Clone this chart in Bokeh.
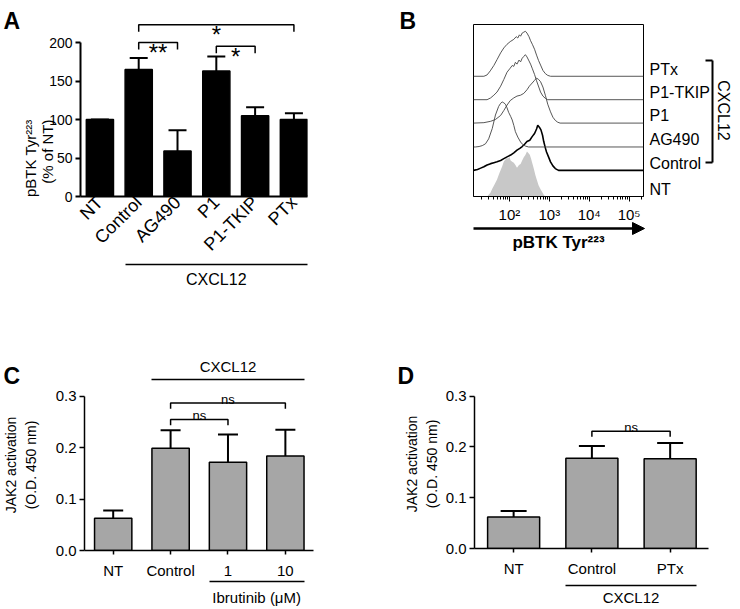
import math
from bokeh.plotting import figure
from bokeh.models import (Range1d, FixedTicker, LinearAxis, Whisker, TeeHead, GridBox,
                          ColumnDataSource, Arrow, NormalHead, NumeralTickFormatter)
from bokeh.core.properties import value
from bokeh.embed import file_html
from bokeh.resources import INLINE

FONT = "Liberation Sans"

# ---------------- Panel A data ----------------
a_groups = ["NT", "Control", "AG490", "P1", "P1-TKIP", "PTx"]
a_mean = [100, 165, 59, 163, 105, 100]
a_sem = [0, 15, 27, 19, 11, 8]
a_yticks = [0, 50, 100, 150, 200]
a_sig_from = ["Control", "P1", "Control"]
a_sig_to = ["AG490", "P1-TKIP", "PTx"]
a_sig_y = [200, 195, 223]
a_sig_text = ["**", "*", "*"]
a_treated = ["Control", "PTx"]

# ---------------- Panel B data (log10 fluorescence, % of mode) ----------------
b_names = ["NT", "Control", "AG490", "P1", "P1-TKIP", "PTx"]
b_offset = [0, 58, 110, 163, 215, 267]
b_nt_x = [1.44, 1.52, 1.57, 1.63, 1.69, 1.75, 1.82, 1.86, 1.90, 1.94, 1.96, 2.00, 2.03, 2.07, 2.11,
          2.15, 2.19, 2.24, 2.28, 2.32, 2.36, 2.40, 2.44, 2.48, 2.51, 2.54, 2.57, 2.61, 2.65, 2.69,
          2.73, 2.78, 2.82, 2.86, 2.90]
b_nt_y = [0, 8, 17, 27, 38, 52, 67, 78, 82, 86, 84, 88, 80, 77, 75,
          70, 64, 70, 72, 80, 87, 92, 100, 96, 93, 85, 75, 62, 48, 36,
          25, 16, 10, 4, 0]
b_control_x = [1.10, 1.20, 1.28, 1.36, 1.44, 1.53, 1.61, 1.69, 1.78, 1.86, 1.94, 2.03, 2.11, 2.19,
               2.26, 2.32, 2.38, 2.44, 2.51, 2.57, 2.63, 2.68, 2.71, 2.75, 2.79, 2.83, 2.86, 2.90,
               2.93, 2.98, 3.03, 3.09, 3.15, 3.23, 5.36]
b_control_y = [0, 2, 5, 8, 12, 15, 17, 19, 22, 26, 30, 34, 39, 45,
               49, 53, 58, 64, 67, 75, 82, 92, 100, 96, 90, 78, 64, 50,
               41, 30, 19, 10, 4, 0, 0]
b_ag490_x = [1.10, 1.15, 1.24, 1.32, 1.40, 1.48, 1.57, 1.65, 1.73, 1.78, 1.82, 1.86, 1.90, 1.94,
             1.98, 2.03, 2.07, 2.11, 2.15, 2.21, 2.28, 2.34, 2.40, 2.48, 5.36]
b_ag490_y = [0, 0, 1, 3, 7, 18, 41, 71, 90, 97, 100, 98, 95, 87,
             77, 68, 60, 48, 34, 22, 11, 5, 2, 0, 0]
b_p1_x = [1.10, 1.36, 1.53, 1.65, 1.78, 1.86, 1.94, 2.02, 2.11, 2.19, 2.28, 2.36, 2.44, 2.50,
          2.57, 2.63, 2.68, 2.73, 2.78, 2.84, 2.90, 2.96, 3.03, 3.09, 3.15, 3.21, 3.27, 5.36]
b_p1_y = [0, 1, 4, 8, 17, 28, 40, 50, 56, 60, 62, 66, 74, 82,
          89, 95, 100, 97, 92, 80, 62, 42, 25, 13, 6, 2, 0, 0]
b_tkip_x = [1.10, 1.44, 1.53, 1.61, 1.69, 1.78, 1.86, 1.94, 2.02, 2.07, 2.11, 2.15, 2.19, 2.24,
            2.28, 2.32, 2.36, 2.40, 2.44, 2.48, 2.53, 2.57, 2.63, 2.68, 2.78, 2.84, 2.90, 2.96, 5.36]
b_tkip_y = [0, 0, 4, 10, 17, 30, 45, 61, 70, 76, 74, 83, 79, 88,
            84, 92, 96, 100, 95, 88, 79, 70, 56, 42, 17, 8, 3, 0, 0]
b_ptx_x = [1.10, 1.36, 1.44, 1.52, 1.61, 1.69, 1.78, 1.86, 1.94, 2.02, 2.11, 2.17, 2.21, 2.25,
           2.28, 2.32, 2.36, 2.40, 2.44, 2.49, 2.53, 2.58, 2.63, 2.68, 2.73, 2.79, 2.84, 2.90,
           2.96, 3.03, 5.36]
b_ptx_y = [0, 0, 3, 12, 24, 37, 52, 63, 71, 77, 82, 88, 85, 92,
           89, 96, 98, 100, 96, 88, 79, 70, 60, 47, 35, 23, 13, 6,
           2, 0, 0]
b_decades = [2, 3, 4, 5]
b_decade_labels = ["10\u00b2", "10\u00b3", "10\u2074", "10\u2075"]
b_bracket = [75, 302]

# ---------------- Panel C data ----------------
c_groups = ["NT", "Control", "1", "10"]
c_mean = [0.063, 0.199, 0.172, 0.184]
c_sem = [0.015, 0.035, 0.054, 0.051]
c_yticks = [0.0, 0.1, 0.2, 0.3]
c_sig_from = ["Control", "Control"]
c_sig_to = ["1", "10"]
c_sig_y = [0.255, 0.287]
c_sig_text = ["ns", "ns"]
c_treated = ["Control", "10"]
c_ibrutinib = ["1", "10"]

# ---------------- Panel D data ----------------
d_groups = ["NT", "Control", "PTx"]
d_mean = [0.062, 0.178, 0.177]
d_sem = [0.012, 0.024, 0.031]
d_sig_from = ["Control"]
d_sig_to = ["PTx"]
d_sig_y = [0.231]
d_sig_text = ["ns"]
d_treated = ["Control", "PTx"]

panel_letters = ["A", "B", "C", "D"]


def base_fig(width, height, left, right, top, bottom, xr, yr):
    p = figure(width=width, height=height, x_range=Range1d(*xr), y_range=Range1d(*yr),
               output_backend="svg", toolbar_location=None, title=None,
               x_axis_location=None, y_axis_location=None,
               min_border_left=left, min_border_right=right,
               min_border_top=top, min_border_bottom=bottom)
    p.frame_align = False
    p.xgrid.visible = False
    p.ygrid.visible = False
    p.outline_line_color = None
    p.background_fill_color = "white"
    p.border_fill_color = "white"
    return p


def make_axis(ticks=None, labels=None, size="14px", line_width=1.5, **kw):
    ax = LinearAxis(ticker=FixedTicker(ticks=ticks or [], minor_ticks=[]), **kw)
    ax.major_label_text_font = FONT
    ax.major_label_text_font_size = size
    ax.major_label_text_color = "black"
    ax.axis_label_text_font = FONT
    ax.axis_label_text_font_style = "normal"
    ax.axis_label_text_color = "black"
    ax.axis_line_color = "black"
    ax.axis_line_width = line_width
    ax.major_tick_line_color = "black"
    ax.major_tick_line_width = line_width
    ax.minor_tick_line_color = None
    ax.major_tick_in = 0
    if labels is not None:
        ax.major_label_overrides = {t: l for t, l in zip(ticks, labels)}
    return ax


def label_axis(pos, txt, size, standoff, line=True, bounds=None, orientation="horizontal"):
    """An axis used only to carry a single text (and optionally a line)."""
    kw = {} if bounds is None else {"bounds": bounds}
    ax = make_axis([pos], [txt], size, 1.5, **kw)
    if not line:
        ax.axis_line_color = None
    ax.major_tick_line_color = None
    ax.major_tick_out = 0
    ax.major_label_standoff = standoff
    ax.major_label_orientation = orientation
    return ax


def pad(ax, px):
    """Extra empty space after an axis' tick labels."""
    ax.axis_label = " "
    ax.axis_label_text_font_size = f"{px}px"
    ax.axis_label_standoff = 0


def brackets(p, groups, s_from, s_to, s_y, s_text, leg, size, yoff):
    x0 = [groups.index(g) for g in s_from]
    x1 = [groups.index(g) for g in s_to]
    xs = [[a, a, b, b] for a, b in zip(x0, x1)]
    ys = [[y - leg, y, y, y - leg] for y in s_y]
    p.multi_line(xs=xs, ys=ys, line_color="black", line_width=1.5)
    p.text(x=[(a + b) / 2 for a, b in zip(x0, x1)], y=s_y, text=s_text,
           text_align="center", text_baseline="alphabetic", y_offset=yoff,
           text_font=value(FONT), text_font_size=size, text_color="black")


def bars(p, groups, mean, sem, width, fill, line, cap):
    src = ColumnDataSource(dict(x=list(range(len(groups))), top=mean,
                                up=[m + s for m, s in zip(mean, sem)]))
    p.vbar(x="x", top="top", width=width, source=src, fill_color=fill,
           line_color=line, line_width=1.5)
    p.add_layout(Whisker(source=src, base="x", lower="top", upper="up",
                         line_color="black", line_width=2, lower_head=None,
                         upper_head=TeeHead(size=cap, line_color="black", line_width=2)))


ROW1, ROW2 = 322, 286
COLA, COLB = 368, 372

# ================= Panel A =================
a_w = 0.7
pA = base_fig(COLA, ROW1, 80, 61, 12, ROW1 - 196, (-0.5, len(a_groups) - 1 + a_w / 2), (0, 239))
bars(pA, a_groups, a_mean, a_sem, a_w, "black", "black", 18)
brackets(pA, a_groups, a_sig_from, a_sig_to, a_sig_y, a_sig_text, 9, "24px", 10)

ay = make_axis(a_yticks, None, "14px", 2, bounds=(0, 200))
ay.major_tick_out = 5
ay.major_label_standoff = 3
pA.add_layout(ay, "left")
a_mid = sum(ay.bounds) / 2
pA.add_layout(label_axis(a_mid, "(% of NT)", "15px", -1, line=False, orientation=math.pi / 2), "left")
pA.add_layout(label_axis(a_mid, "pBTK Tyr\u00b2\u00b2\u00b3", "15px", -3, line=False,
                         orientation=math.pi / 2), "left")

ax = make_axis(list(range(len(a_groups))), a_groups, "18px", 2)
ax.major_tick_out = 0
ax.major_label_orientation = math.pi / 4
ax.major_label_standoff = 3
pA.add_layout(ax, "below")

a_tb = (a_groups.index(a_treated[0]) - a_w / 2, a_groups.index(a_treated[1]) + a_w / 2)
pA.add_layout(label_axis(sum(a_tb) / 2, "CXCL12", "16px", 6, bounds=a_tb), "below")

# ================= Panel B =================
pB = base_fig(COLB, ROW1, 105, 97, 24, ROW1 - 196, (1.1, 5.36), (0, 382))
pB.outline_line_color = "black"
pB.outline_line_width = 1
b_traces = [(b_control_x, b_control_y), (b_ag490_x, b_ag490_y), (b_p1_x, b_p1_y),
            (b_tkip_x, b_tkip_y), (b_ptx_x, b_ptx_y)]
pB.varea(x=b_nt_x, y1=[b_offset[0]] * len(b_nt_x), y2=[b_offset[0] + h for h in b_nt_y],
         fill_color="#c8c8c8")
for i, (xs, hs) in enumerate(b_traces, start=1):
    pB.line(x=xs, y=[b_offset[i] + h for h in hs], line_color="black" if i == 1 else "#444444",
            line_width=1.6 if i == 1 else 0.9)

b_minor = [math.log10(k * 10 ** n) for n in range(1, 6) for k in range(2, 10)
           if 1.1 < math.log10(k * 10 ** n) < 5.36]
bx = make_axis(b_decades, b_decade_labels, "15px", 1)
bx.ticker = FixedTicker(ticks=b_decades, minor_ticks=b_minor)
bx.major_tick_out = 5
bx.minor_tick_out = 3
bx.minor_tick_in = 0
bx.minor_tick_line_color = "black"
bx.major_label_standoff = 4
pB.add_layout(bx, "below")

bx2 = make_axis([], None, "14px", 2.5)
bx2.axis_line_color = None
bx2.axis_label = "pBTK Tyr\u00b2\u00b2\u00b3"
bx2.axis_label_text_font_size = "17px"
bx2.axis_label_text_font_style = "bold"
bx2.axis_label_standoff = 7
pB.add_layout(bx2, "below")

b_label_pos = [o + 16 for o in b_offset]
by = make_axis(b_label_pos, b_names, "16px", 1)
by.axis_line_color = None
by.major_tick_out = 0
by.major_tick_line_color = None
by.major_label_standoff = 6
pB.add_layout(by, "right")

by2 = make_axis(b_bracket, ["", ""], "1px", 2, bounds=tuple(b_bracket))
by2.major_tick_in = 7
by2.major_tick_out = 0
by2.major_label_standoff = 0
by2.axis_label = "CXCL12"
by2.axis_label_text_font_size = "16px"
by2.axis_label_standoff = 2
pB.add_layout(by2, "right")

# ================= Panel C =================
c_w = 0.65
C_TOP = 379 - ROW1
C_BOT = ROW2 - C_TOP - 172
pC = base_fig(COLA, ROW2, 80, 55, C_TOP, C_BOT, (-0.5, 3.49), (0, 0.333))
bars(pC, c_groups, c_mean, c_sem, c_w, "#a6a6a6", "black", 20)
brackets(pC, c_groups, c_sig_from, c_sig_to, c_sig_y, c_sig_text, 0.011, "13px", -4)

cy = make_axis(c_yticks, None, "15px", 1.5, bounds=(0, 0.3))
cy.formatter = NumeralTickFormatter(format="0.0")
cy.major_tick_out = 5
cy.major_label_standoff = 3
cy.axis_label = "JAK2 activation\n(O.D. 450 nm)"
cy.axis_label_text_font_size = "14px"
cy.axis_label_standoff = 14
pC.add_layout(cy, "left")

c_tb = (c_groups.index(c_treated[0]) - c_w / 2, c_groups.index(c_treated[1]) + c_w / 2)
pC.add_layout(label_axis(sum(c_tb) / 2, "CXCL12", "15px", 5, bounds=c_tb), "above")

cx = make_axis(list(range(len(c_groups))), c_groups, "15px", 1.5)
cx.major_tick_out = 4
cx.major_label_standoff = 7
pC.add_layout(cx, "below")

c_ib = (c_groups.index(c_ibrutinib[0]) - c_w / 2, c_groups.index(c_ibrutinib[1]) + c_w / 2)
pC.add_layout(label_axis(sum(c_ib) / 2, "Ibrutinib (\u03bcM)", "15px", 7, bounds=c_ib), "below")

# ================= Panel D =================
d_w = 0.665
pD = base_fig(COLB, ROW2, 106, 32, C_TOP, C_BOT, (-0.5, 2.49), (0, 0.333))
bars(pD, d_groups, d_mean, d_sem, d_w, "#a6a6a6", "black", 26)
brackets(pD, d_groups, d_sig_from, d_sig_to, d_sig_y, d_sig_text, 0.011, "13px", -4)

dy = make_axis(c_yticks, None, "15px", 1.5, bounds=(0, 0.3))
dy.formatter = NumeralTickFormatter(format="0.0")
dy.major_tick_out = 5
dy.major_label_standoff = 3
dy.axis_label = "JAK2 activation\n(O.D. 450 nm)"
dy.axis_label_text_font_size = "14px"
dy.axis_label_standoff = 3
pD.add_layout(dy, "left")

dx = make_axis(list(range(len(d_groups))), d_groups, "15px", 1.5)
dx.major_tick_out = 4
dx.major_label_standoff = 7
pad(dx, 3)
pD.add_layout(dx, "below")

d_tb = (d_groups.index(d_treated[0]) - d_w / 2, d_groups.index(d_treated[1]) + d_w / 2)
pD.add_layout(label_axis(sum(d_tb) / 2, "CXCL12", "15px", 3, bounds=d_tb), "below")

# ================= overlay: panel letters and the B axis arrow =================
W, H = COLA + COLB, ROW1 + ROW2
ov = figure(width=W, height=H, x_range=Range1d(0, W), y_range=Range1d(H, 0),
            output_backend="svg", toolbar_location=None, title=None,
            x_axis_location=None, y_axis_location=None, min_border=0)
ov.frame_align = False
ov.xgrid.visible = False
ov.ygrid.visible = False
ov.outline_line_color = None
ov.background_fill_alpha = 0
ov.border_fill_alpha = 0
ov.text(x=[3, 399, 3, 397], y=[20, 20, 375, 375], text=panel_letters,
        text_font=value(FONT), text_font_size="23px", text_font_style="bold",
        text_baseline="alphabetic", text_color="black")
ov.add_layout(Arrow(x_start=473, y_start=228, x_end=644, y_end=228, line_width=2.5,
                    line_color="black",
                    end=NormalHead(size=12, fill_color="black", line_color="black")))

layout = GridBox(children=[(pA, 0, 0), (pB, 0, 1), (pC, 1, 0), (pD, 1, 1), (ov, 0, 0, 2, 2)])
open("out.html", "w").write(file_html(layout, INLINE))
